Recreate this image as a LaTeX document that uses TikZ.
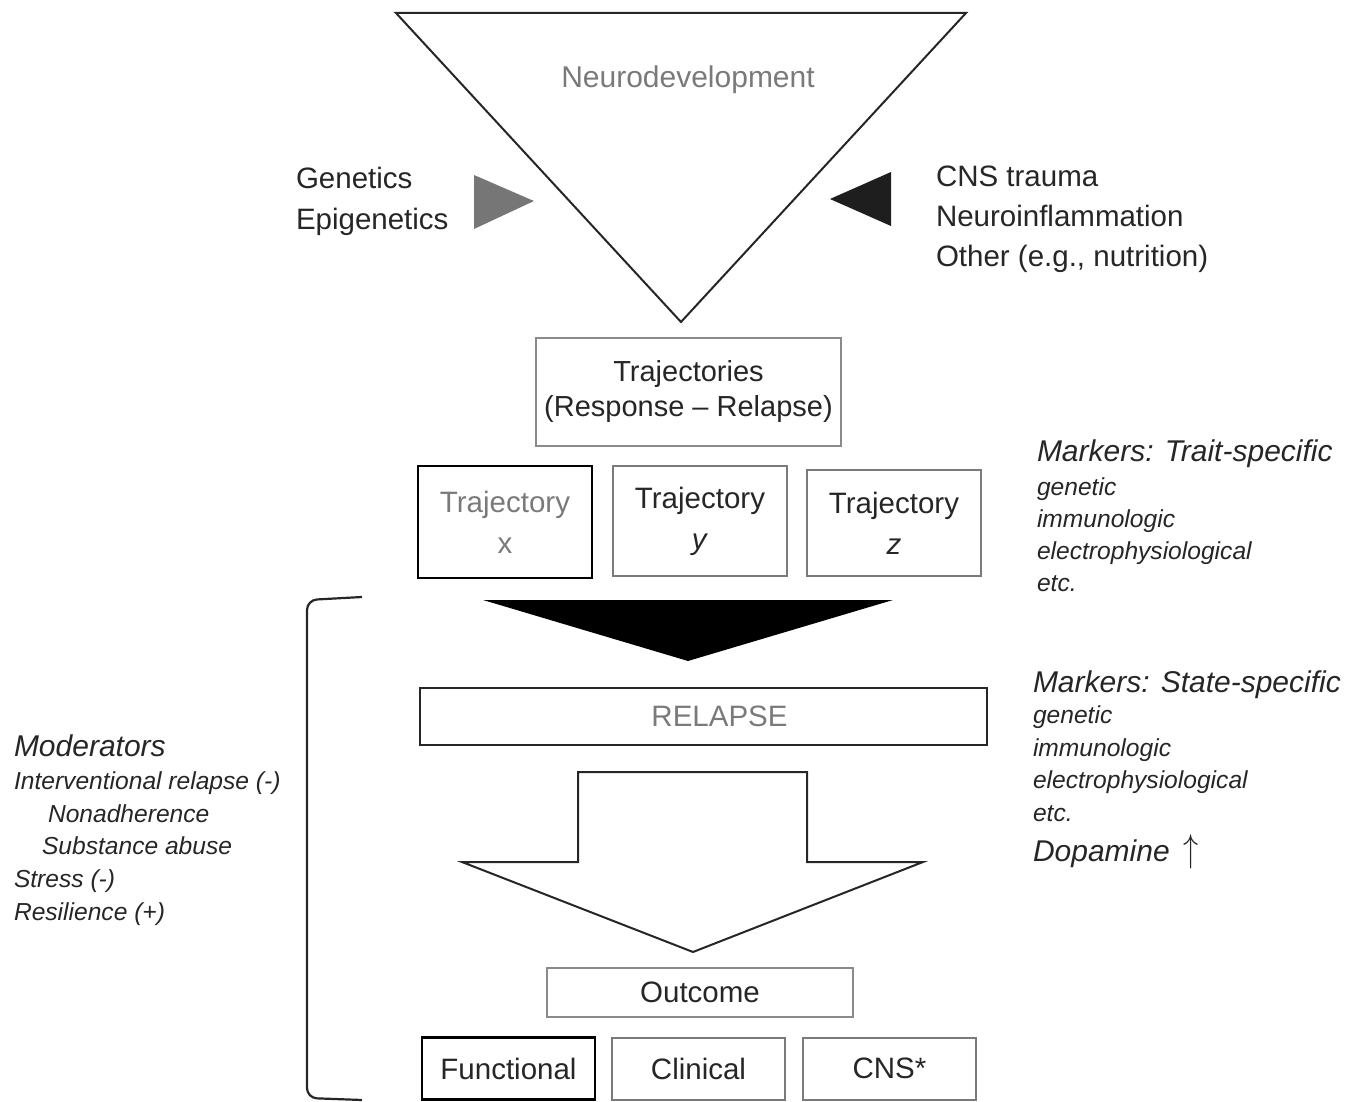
\documentclass[tikz,border=0pt]{standalone}
\usepackage{fontspec}
\setmainfont{Liberation Sans}
\definecolor{ink}{HTML}{262626}
\definecolor{soft}{HTML}{7A7A7A}
\definecolor{rim}{HTML}{8A8A8A}
\definecolor{wedge}{HTML}{767676}
\definecolor{dark}{HTML}{1E1E1E}
\begin{document}
\begin{tikzpicture}[x=0.5pt,y=-0.5pt,
	every node/.style={inner sep=0pt,outer sep=0pt,text=ink},
	body/.style={font=\fontsize{14.75}{20.5}\selectfont},
	note/.style={font=\fontsize{12.3}{16}\selectfont\itshape},
	head/.style={font=\fontsize{15}{20}\selectfont\itshape},
	box/.style={draw=rim,line width=1pt,align=center,body},
	boxdark/.style={box,draw=black,line width=1.3pt},
	tbox/.style={box,minimum width=87pt},
	obox/.style={box,minimum width=86.5pt,minimum height=31pt}]
\useasboundingbox (0,0) rectangle (1346,1102);

% funnel and influences
\draw[line width=1pt,ink] (396,13) -- (966,13) -- (681,322) -- cycle;
\node[text=soft,font=\fontsize{15}{18}\selectfont,anchor=base] (neuro) at (688,88) {Neurodevelopment};
\fill[wedge] (474,175) -- (534,201) -- (474,229) -- cycle;
\fill[dark] (891,172) -- (830,199) -- (891,226) -- cycle;
\node[body,anchor=base west] (gen) at (296,189) {Genetics};
\node[body,anchor=base west] (epi) at (296,229) {Epigenetics};
\foreach \t [count=\i] in {CNS trauma,Neuroinflammation,{Other (e.g., nutrition)}}
	\node[body,anchor=base west] (ext\i) at (936,147+40*\i) {\t};

% trajectories
\node[box,minimum width=152.5pt,minimum height=54pt,font=\fontsize{14.5}{17.5}\selectfont] (traj) at (688.5,392)
	{Trajectories\\(Response -- Relapse)};
\node[boxdark,minimum width=87pt,minimum height=56pt] (tx) at (505,522)
	{\textcolor{soft}{Trajectory}\\\textcolor{soft}{x}};
\node[tbox,draw=soft,minimum height=55pt] (ty) at (700,521) {Trajectory\\\textit{y}};
\node[tbox,draw=soft,minimum height=53pt] (tz) at (894,523) {Trajectory\\\textit{z}};

\node[head,anchor=base west] (trait) at (1037,461) {Markers: Trait-specific};
\foreach \t [count=\i] in {genetic,immunologic,electrophysiological,etc.}
	\node[note,anchor=base west] (trait\i) at (1037,463+32*\i) {\t};

% relapse
\fill[black] (483,600) -- (893,600) -- (688,661) -- cycle;
\node[box,draw=ink,minimum width=283.5pt,minimum height=28.5pt] (relapse) at (703.5,716.5) {};
\node[body,text=soft] (relapsetxt) at ([xshift=8pt]relapse.center) {RELAPSE};

\node[head,anchor=base west] (state) at (1033,692) {Markers: State-specific};
\foreach \t [count=\i] in {genetic,immunologic,electrophysiological,etc.}
	\node[note,anchor=base west] (state\i) at (1033,691+32.5*\i) {\t};
\node[head,anchor=base west] (dopa) at (1033,861) {Dopamine \,\scalebox{1.05}[1.35]{$\uparrow$}};

% moderators
\draw[line width=1.1pt,ink,rounded corners=5pt] (362,597) -- (307,600) -- (307,1098) -- (362,1100);
\node[head,anchor=base west] (mod) at (14,756) {Moderators};
\node[note,anchor=base west] (mod1) at (14,789) {Interventional relapse (-)};
\node[note,anchor=base west] (mod2) at (48,822) {Nonadherence};
\node[note,anchor=base west] (mod3) at (42,854) {Substance abuse};
\node[note,anchor=base west] (mod4) at (14,887) {Stress (-)};
\node[note,anchor=base west] (mod5) at (14,920) {Resilience (+)};

% outcome
\draw[line width=1pt,ink,line join=miter] (578,772) -- (807,772) -- (807,862) -- (923,862)
	-- (693,952) -- (462,862) -- (578,862) -- cycle;
\node[box,minimum width=153pt,minimum height=24.5pt] (outcome) at (700,992.5) {Outcome};
\node[obox,draw=black,line width=1.3pt] (func) at (508.5,1068.5) {Functional};
\node[obox,draw=soft] (clin) at (698.5,1068.5) {Clinical};
\node[obox,draw=soft] (cns) at (889.5,1068.5) {CNS*};
\end{tikzpicture}
\end{document}
